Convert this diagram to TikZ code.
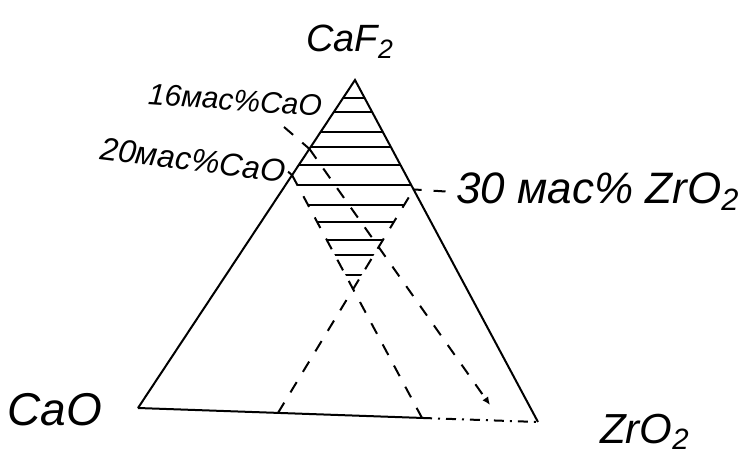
\documentclass[tikz,border=0pt]{standalone}
\usepackage{fontspec}
\setmainfont{Liberation Sans}
\usepackage{tikz}
\usetikzlibrary{arrows.meta,calc}
\definecolor{ink}{HTML}{000000}

\begin{document}
\begin{tikzpicture}[x=0.5pt,y=-0.5pt,line width=1pt,
  every node/.style={text=ink,inner sep=1pt,align=center},
  guide/.style={draw=ink,dash pattern=on 6pt off 6pt},
  hatch/.style={draw=ink,line width=0.9pt}]
\useasboundingbox (0,0) rectangle (744,460);
% corners and marked points
\coordinate (top) at (355,80);
\coordinate (bl) at (138,408);
\coordinate (br) at (538,422);
\coordinate (p16) at ($(top)!0.21!(bl)$);
\coordinate (p20) at ($(top)!0.29!(bl)$);
\coordinate (p30) at ($(top)!0.32!(br)$);
\coordinate (q30) at ($(bl)!0.35!(br)$);
\coordinate (p20b) at ($(p20)+(br)-(top)$);
\coordinate (q20) at (intersection of p20--p20b and bl--br);
\coordinate (x) at (intersection of p20--p20b and q30--p30);
\coordinate (e16) at (490,405);
\coordinate (l16) at (284,127);
% labels
\node[font={\itshape\fontsize{19}{22}\selectfont}] (caf2) at (350,42) {CaF\textsubscript{2}};
\node[font={\itshape\fontsize{23}{26}\selectfont}] (cao) at (55,410) {CaO};
\node[font={\itshape\fontsize{21}{24}\selectfont}] (zro2) at (645,432) {ZrO\textsubscript{2}};
\node[font={\itshape\fontsize{15}{18}\selectfont},rotate=-4] (lab16) at (235,100) {16мас\%CaO};
\node[font={\itshape\fontsize{16}{19}\selectfont},rotate=-7] (lab20) at (193,160) {20мас\%CaO};
\node[font={\itshape\fontsize{22}{25}\selectfont}] (lab30) at (598,192) {30 мас\% ZrO\textsubscript{2}};
% hatched field
\begin{scope}
\clip (top) -- (p30) -- (x) -- (p20) -- cycle;
\foreach \y in {98,112,132,147,165,185,205,222,240,255,275}
  \draw[hatch] (250,\y) -- (450,\y);
\end{scope}
% triangle
\draw[ink] (bl) -- (top) -- (br);
\draw[ink] (bl) -- (q20);
\draw[ink,dash pattern=on 5pt off 3pt on 1pt off 3pt] (q20) -- (br);
% sections
\draw[guide] (q30) -- (p30);
\draw[guide] (p20) -- (q20);
\draw[guide,-{Latex[length=4pt,width=3.5pt]}] (p16) -- (e16);
% leaders
\draw[guide] (l16) -- (p16);
\draw[ink] (lab20.east) -- (p20);
\draw[guide,shorten <=4pt] (lab30.west) -- (p30);
\end{tikzpicture}
\end{document}
